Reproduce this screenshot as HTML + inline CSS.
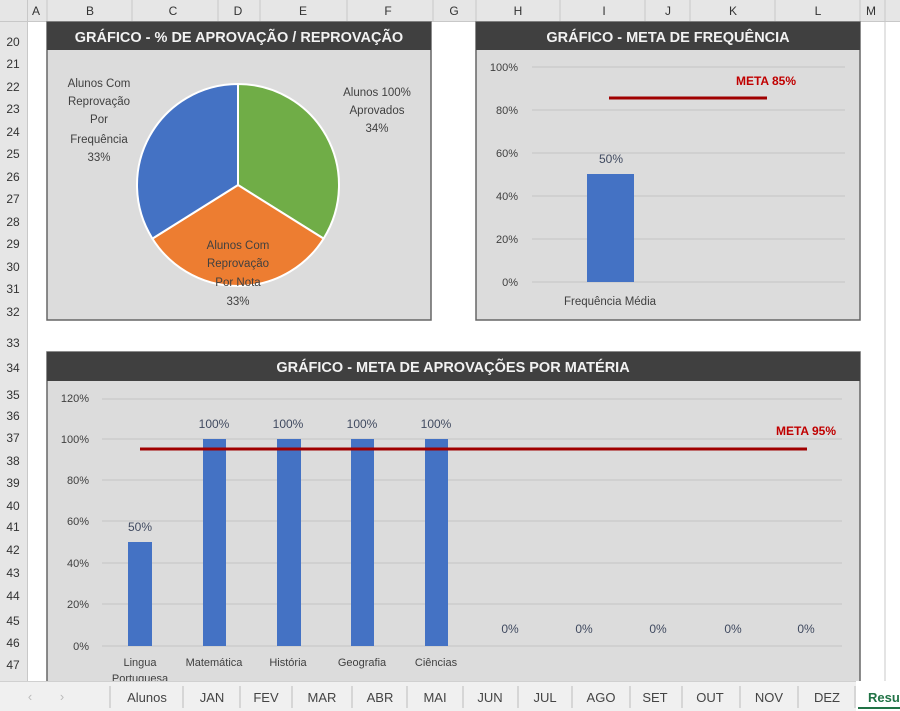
<!DOCTYPE html>
<html><head><meta charset="utf-8"><style>
body{margin:0;width:900px;height:711px;overflow:hidden;background:#fff;font-family:"Liberation Sans",sans-serif}
svg{display:block}
</style></head><body>
<svg width="900" height="711" viewBox="0 0 900 711" font-family="Liberation Sans, sans-serif">
<!-- grid headers -->
<rect x="0" y="0" width="900" height="22" fill="#e6e6e6"/>
<rect x="0" y="0" width="28" height="711" fill="#e6e6e6"/>
<g stroke="#c8c8c8" stroke-width="1">
<line x1="0" y1="21.5" x2="900" y2="21.5"/>
<line x1="27.5" y1="0" x2="27.5" y2="711"/>
<line x1="47" y1="0" x2="47" y2="22"/><line x1="132" y1="0" x2="132" y2="22"/><line x1="218" y1="0" x2="218" y2="22"/><line x1="260" y1="0" x2="260" y2="22"/><line x1="347" y1="0" x2="347" y2="22"/><line x1="433" y1="0" x2="433" y2="22"/><line x1="476" y1="0" x2="476" y2="22"/><line x1="560" y1="0" x2="560" y2="22"/><line x1="645" y1="0" x2="645" y2="22"/><line x1="690" y1="0" x2="690" y2="22"/><line x1="775" y1="0" x2="775" y2="22"/><line x1="860" y1="0" x2="860" y2="22"/><line x1="885" y1="0" x2="885" y2="22"/>
<line x1="885" y1="22" x2="885" y2="681"/>
</g>
<g font-size="12" fill="#333" text-anchor="middle">
<text x="36" y="15">A</text><text x="90" y="15">B</text><text x="173" y="15">C</text><text x="238" y="15">D</text><text x="303" y="15">E</text><text x="388" y="15">F</text><text x="454" y="15">G</text><text x="518" y="15">H</text><text x="604" y="15">I</text><text x="668" y="15">J</text><text x="733" y="15">K</text><text x="818" y="15">L</text><text x="871" y="15">M</text>
</g>
<g font-size="12" fill="#333" text-anchor="middle">
<text x="13" y="46">20</text><text x="13" y="68">21</text><text x="13" y="91">22</text><text x="13" y="113">23</text><text x="13" y="136">24</text><text x="13" y="158">25</text><text x="13" y="181">26</text><text x="13" y="203">27</text><text x="13" y="226">28</text><text x="13" y="248">29</text><text x="13" y="271">30</text><text x="13" y="293">31</text><text x="13" y="316">32</text><text x="13" y="347">33</text><text x="13" y="372">34</text><text x="13" y="399">35</text><text x="13" y="420">36</text><text x="13" y="442">37</text><text x="13" y="465">38</text><text x="13" y="487">39</text><text x="13" y="510">40</text><text x="13" y="531">41</text><text x="13" y="554">42</text><text x="13" y="577">43</text><text x="13" y="600">44</text><text x="13" y="625">45</text><text x="13" y="647">46</text><text x="13" y="669">47</text>
</g>

<!-- Chart 1 -->
<rect x="47" y="22" width="384" height="298" fill="#dcdcdc" stroke="#666" stroke-width="1.5"/>
<rect x="47" y="22" width="384" height="28" fill="#404040"/>
<text x="239" y="42" font-size="14.5" font-weight="bold" fill="#f2f2f2" text-anchor="middle">GRÁFICO - % DE APROVAÇÃO / REPROVAÇÃO</text>
<g stroke="#fff" stroke-width="2">
<path d="M238,185 L238,84 A101,101 0 0 1 323.6,238.6 Z" fill="#70ad47"/>
<path d="M238,185 L323.6,238.6 A101,101 0 0 1 152.4,238.6 Z" fill="#ed7d31"/>
<path d="M238,185 L152.4,238.6 A101,101 0 0 1 238,84 Z" fill="#4472c4"/>
</g>
<g font-size="11.5" fill="#404040" text-anchor="middle">
<text x="99" y="87">Alunos Com</text><text x="99" y="105">Reprovação</text><text x="99" y="123">Por</text><text x="99" y="143">Frequência</text><text x="99" y="161">33%</text>
<text x="377" y="96">Alunos 100%</text><text x="377" y="114">Aprovados</text><text x="377" y="132">34%</text>
<text x="238" y="249">Alunos Com</text><text x="238" y="267">Reprovação</text><text x="238" y="286">Por Nota</text><text x="238" y="305">33%</text>
</g>

<!-- Chart 2 -->
<rect x="476" y="22" width="384" height="298" fill="#dcdcdc" stroke="#666" stroke-width="1.5"/>
<rect x="476" y="22" width="384" height="28" fill="#404040"/>
<text x="668" y="42" font-size="14.5" font-weight="bold" fill="#f2f2f2" text-anchor="middle">GRÁFICO - META DE FREQUÊNCIA</text>
<g stroke="#c4c4c4" stroke-width="1">
<line x1="532" y1="67" x2="845" y2="67"/><line x1="532" y1="110" x2="845" y2="110"/><line x1="532" y1="153" x2="845" y2="153"/><line x1="532" y1="196" x2="845" y2="196"/><line x1="532" y1="239" x2="845" y2="239"/><line x1="532" y1="282" x2="845" y2="282"/>
</g>
<g font-size="11" fill="#404040" text-anchor="end">
<text x="518" y="71">100%</text><text x="518" y="114">80%</text><text x="518" y="157">60%</text><text x="518" y="200">40%</text><text x="518" y="243">20%</text><text x="518" y="286">0%</text>
</g>
<rect x="587" y="174" width="47" height="108" fill="#4472c4"/>
<text x="611" y="163" font-size="12" fill="#404a60" text-anchor="middle">50%</text>
<line x1="609" y1="98" x2="767" y2="98" stroke="#a00000" stroke-width="3"/>
<text x="766" y="85" font-size="12" font-weight="bold" fill="#c00000" text-anchor="middle">META 85%</text>
<text x="610" y="305" font-size="11.5" fill="#404040" text-anchor="middle">Frequência Média</text>

<!-- Chart 3 -->
<rect x="47" y="352" width="813" height="345" fill="#dcdcdc" stroke="#666" stroke-width="1.5"/>
<rect x="47" y="352" width="813" height="29" fill="#404040"/>
<text x="453" y="372" font-size="14.5" font-weight="bold" fill="#f2f2f2" text-anchor="middle">GRÁFICO - META DE APROVAÇÕES POR MATÉRIA</text>
<g stroke="#c4c4c4" stroke-width="1">
<line x1="102" y1="399" x2="842" y2="399"/><line x1="102" y1="439" x2="842" y2="439"/><line x1="102" y1="480" x2="842" y2="480"/><line x1="102" y1="521" x2="842" y2="521"/><line x1="102" y1="563" x2="842" y2="563"/><line x1="102" y1="604" x2="842" y2="604"/><line x1="102" y1="646" x2="842" y2="646"/>
</g>
<g font-size="11" fill="#404040" text-anchor="end">
<text x="89" y="402">120%</text><text x="89" y="443">100%</text><text x="89" y="484">80%</text><text x="89" y="525">60%</text><text x="89" y="567">40%</text><text x="89" y="608">20%</text><text x="89" y="650">0%</text>
</g>
<g fill="#4472c4">
<rect x="128" y="542" width="24" height="104"/>
<rect x="203" y="439" width="23" height="207"/>
<rect x="277" y="439" width="24" height="207"/>
<rect x="351" y="439" width="23" height="207"/>
<rect x="425" y="439" width="23" height="207"/>
</g>
<line x1="140" y1="449" x2="807" y2="449" stroke="#a00000" stroke-width="3"/>
<text x="806" y="435" font-size="12" font-weight="bold" fill="#c00000" text-anchor="middle">META 95%</text>
<g font-size="12" fill="#404a60" text-anchor="middle">
<text x="140" y="531">50%</text><text x="214" y="428">100%</text><text x="288" y="428">100%</text><text x="362" y="428">100%</text><text x="436" y="428">100%</text>
<text x="510" y="633">0%</text><text x="584" y="633">0%</text><text x="658" y="633">0%</text><text x="733" y="633">0%</text><text x="806" y="633">0%</text>
</g>
<g font-size="11" fill="#404040" text-anchor="middle">
<text x="140" y="666">Lingua</text><text x="140" y="682">Portuguesa</text><text x="214" y="666">Matemática</text><text x="288" y="666">História</text><text x="362" y="666">Geografia</text><text x="436" y="666">Ciências</text>
</g>

<!-- tab bar -->
<rect x="0" y="681" width="900" height="30" fill="#f0f0f0"/>
<line x1="0" y1="681.5" x2="900" y2="681.5" stroke="#d0d0d0"/>
<g font-size="13" fill="#444" text-anchor="middle">
<text x="30" y="701" fill="#bbb">‹</text><text x="62" y="701" fill="#bbb">›</text>
<text x="147" y="702">Alunos</text><text x="212" y="702">JAN</text><text x="266" y="702">FEV</text><text x="322" y="702">MAR</text><text x="380" y="702">ABR</text><text x="435" y="702">MAI</text><text x="490" y="702">JUN</text><text x="545" y="702">JUL</text><text x="601" y="702">AGO</text><text x="655" y="702">SET</text><text x="710" y="702">OUT</text><text x="769" y="702">NOV</text><text x="827" y="702">DEZ</text>
</g>
<g stroke="#bbb"><line x1="110" y1="686" x2="110" y2="708"/><line x1="183" y1="686" x2="183" y2="708"/><line x1="240" y1="686" x2="240" y2="708"/><line x1="292" y1="686" x2="292" y2="708"/><line x1="352" y1="686" x2="352" y2="708"/><line x1="407" y1="686" x2="407" y2="708"/><line x1="463" y1="686" x2="463" y2="708"/><line x1="518" y1="686" x2="518" y2="708"/><line x1="572" y1="686" x2="572" y2="708"/><line x1="630" y1="686" x2="630" y2="708"/><line x1="682" y1="686" x2="682" y2="708"/><line x1="740" y1="686" x2="740" y2="708"/><line x1="798" y1="686" x2="798" y2="708"/><line x1="855" y1="686" x2="855" y2="708"/></g>
<rect x="856" y="681" width="44" height="30" fill="#fff"/>
<text x="868" y="702" font-size="13" font-weight="bold" fill="#217346">Resu</text>
<line x1="858" y1="708" x2="900" y2="708" stroke="#217346" stroke-width="2"/>
</svg>
</body></html>
